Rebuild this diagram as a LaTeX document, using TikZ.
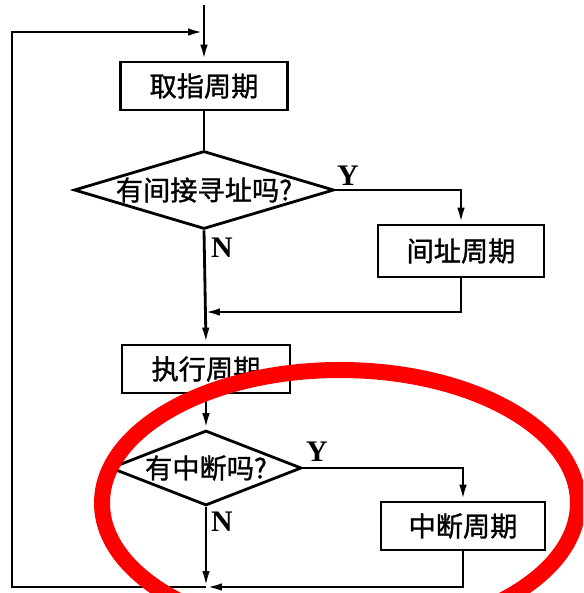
\documentclass[tikz,border=0pt]{standalone}
\usepackage{fontspec}
\setmainfont{Liberation Serif}
\newfontfamily\cjk[FakeBold=1.2]{Noto Sans CJK SC}
\usepackage{tikz}
\usetikzlibrary{positioning,arrows.meta,shapes.geometric}
\usepackage{xcolor}

\begin{document}
\begin{tikzpicture}[x=0.02cm, y=-0.02cm, line width=1.6pt,
    >={Latex[length=0.32cm,width=0.15cm]},
    cycbox/.style={draw, rectangle, inner sep=0pt, font=\cjk\fontsize{15.5}{18}\selectfont},
    decision/.style={draw, diamond, inner sep=0pt, font=\cjk\fontsize{15.5}{18}\selectfont},
    yn/.style={font=\bfseries\fontsize{17}{20}\selectfont, inner sep=0pt}]
                \useasboundingbox (0,0) rectangle (583,593);
                \clip (0,0) rectangle (583,593);

                % Fetch cycle and indirect test
                \coordinate (top) at (204,5);
                \node[cycbox, minimum width=3.34cm, minimum height=0.96cm] (fetch) at (204,86) {取指周期};
                \node[decision, minimum width=5.2cm, minimum height=1.56cm] (qind) at (204,190) {\makebox[0pt]{有间接寻址吗?}};
                \node[yn] (yind) at (348,176) {Y};
                \node[yn] (nind) at (222,248) {N};
                \node[cycbox, minimum width=3.32cm, minimum height=1.04cm] (indir) at (461,251) {间址周期};
                \coordinate (join1) at (204,312);

                % Execute cycle and interrupt test
                \node[cycbox, minimum width=3.36cm, minimum height=0.96cm] (exec) at (206,369) {执行周期};
                \node[decision, minimum width=3.82cm, minimum height=1.5cm] (qint) at (206,468) {\makebox[0pt]{有中断吗?}};
                \node[yn] (yint) at (317,452) {Y};
                \node[yn] (nint) at (222,522) {N};
                \node[cycbox, minimum width=3.28cm, minimum height=0.96cm] (intr) at (463,526) {中断周期};
                \coordinate (join2) at (206,587);
                \coordinate (back) at (204,32);

                % Connectors
                \draw[->] (top) -- (fetch.north);
                \draw (fetch.south) -- (qind.north);
                \draw[->] (qind.east) -| (indir.north);
                \draw[->] (qind.south) -- (exec.north);
                \draw[->] (indir.south) |- (join1);
                \draw[->] (exec.south) -- (qint.north);
                \draw[->] (qint.east) -| (intr.north);
                \draw[->] (qint.south) -- (join2);
                \draw[->] (intr.south) |- (join2);
                \draw[->] (join2) -- (12,587) -- (12,32) -- (back);

                % Red highlight ring
                \draw[red, line width=0.32cm] (340,503) ellipse [x radius=238, y radius=133];
\end{tikzpicture}
\end{document}
